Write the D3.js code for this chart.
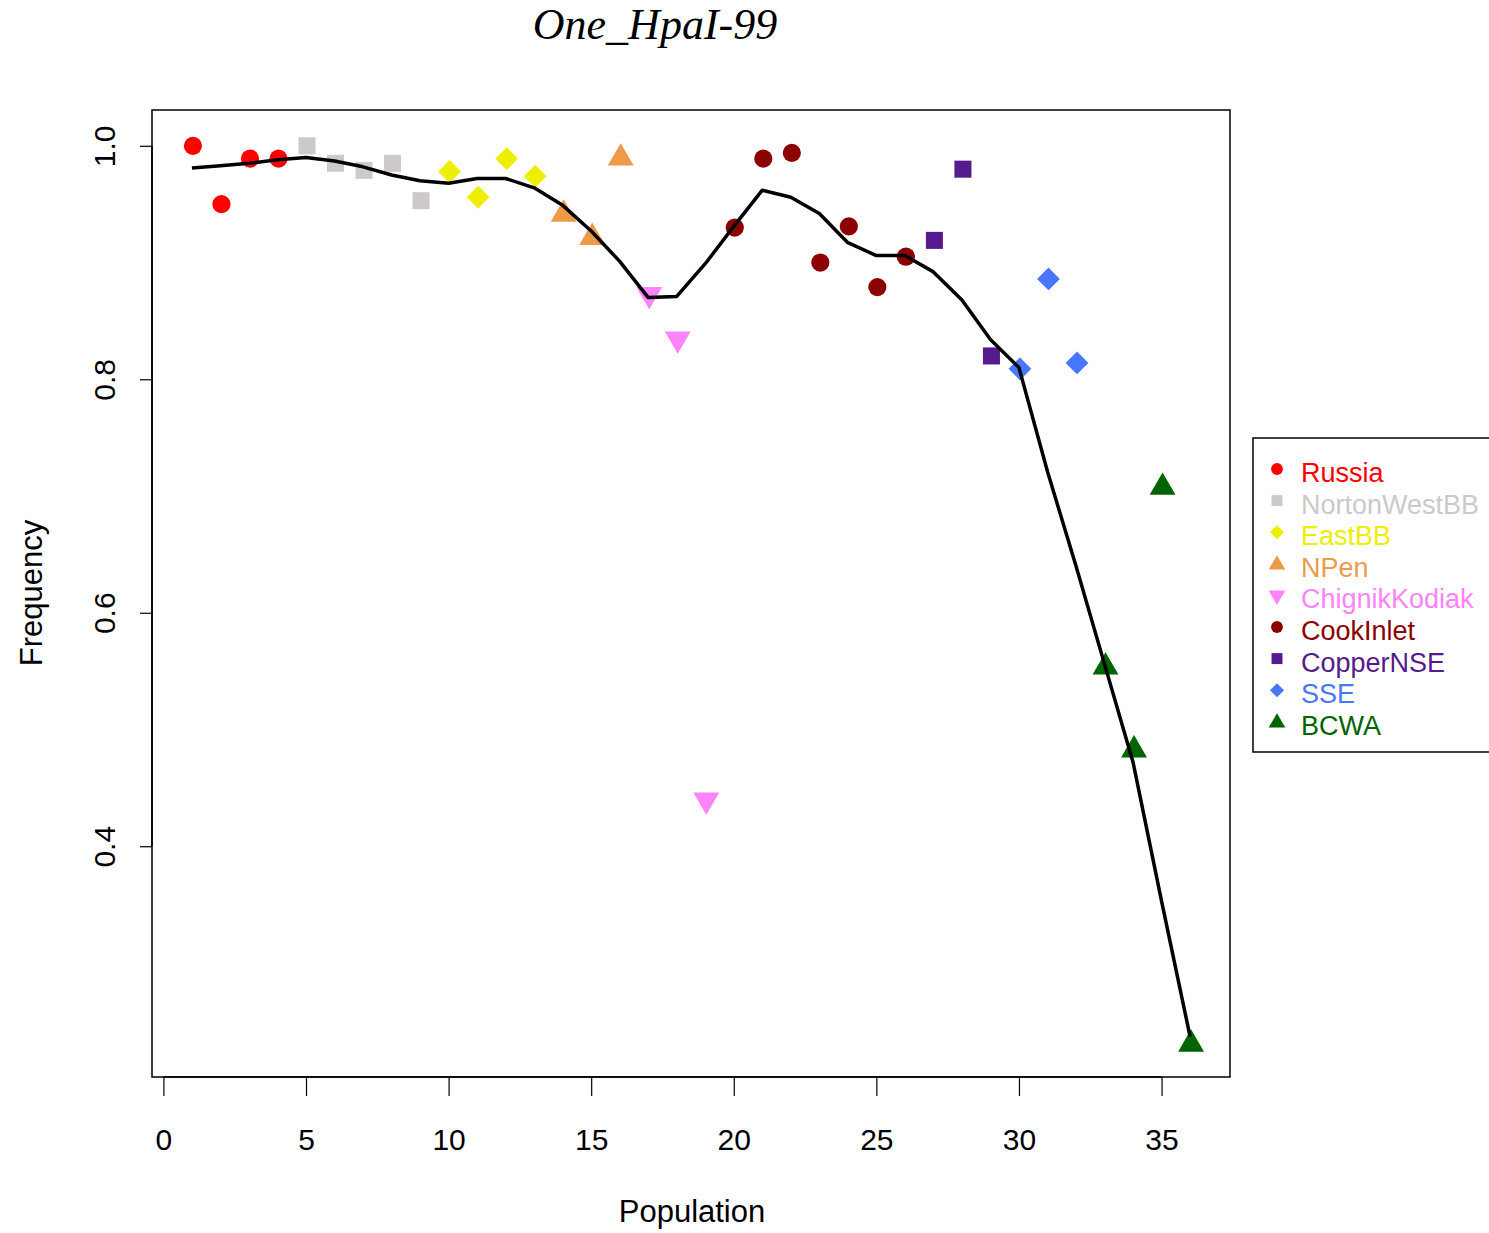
<!DOCTYPE html>
<html><head><meta charset="utf-8">
<script src="https://cdn.jsdelivr.net/npm/d3@7"></script>
<style>body{margin:0;background:#fff}</style>
</head><body>
<svg id="c" width="1489" height="1233"></svg>
<script>
const groups = ["Russia","NortonWestBB","EastBB","NPen","ChignikKodiak","CookInlet","CopperNSE","SSE","BCWA"];
const groupColors = ["#FF0000","#CDC9C9","#EEEE00","#EE9A49","#FF83FA","#8B0000","#551A8B","#4876FF","#006400"];
const groupShapes = ["circle","square","diamond","triangle","triangleDown","circle","square","diamond","triangle"];
const population = [1,2,3,4,5,6,7,8,9,10,11,12,13,14,15,16,17,18,19,20,21,22,23,24,25,26,27,28,29,30,31,32,33,34,35,36];
const pointGroup = [0,0,0,0,1,1,1,1,1,2,2,2,2,3,3,3,4,4,4,5,5,5,5,5,5,5,6,6,6,7,7,7,8,8,8,8];
const frequency = [1.000,0.950,0.989,0.989,1.000,0.985,0.979,0.985,0.953,0.978,0.956,0.989,0.974,0.944,0.924,0.992,0.870,0.832,0.437,0.930,0.989,0.994,0.900,0.931,0.879,0.905,0.919,0.980,0.820,0.809,0.886,0.814,0.556,0.485,0.710,0.233];
const smoothed = [0.981,0.983,0.985,0.988,0.990,0.987,0.982,0.975,0.970,0.968,0.972,0.972,0.964,0.949,0.927,0.901,0.870,0.871,0.899,0.931,0.962,0.956,0.942,0.917,0.906,0.906,0.892,0.868,0.834,0.810,0.721,0.640,0.556,0.472,0.353,0.237];
const xTicks = [0,5,10,15,20,25,30,35];
const yTicks = [0.4,0.6,0.8,1.0];

const svg = d3.select("#c");
const L=152,R=1230,T=110,B=1077;
const xs = d3.scaleLinear().domain([-0.4,37.4]).range([L,R]);
const ymin=d3.min(frequency), ymax=d3.max(frequency), pad=(ymax-ymin)*0.04;
const ys = d3.scaleLinear().domain([ymin-pad,ymax+pad]).range([B,T]);

const font="'Liberation Sans', Arial, sans-serif";

// box
svg.append("rect").attr("x",L).attr("y",T).attr("width",R-L).attr("height",B-T)
  .attr("fill","none").attr("stroke","#000").attr("stroke-width",1.5);

// x axis
const xa = svg.append("g").attr("transform",`translate(0,${B})`)
  .call(d3.axisBottom(xs).tickValues(xTicks).tickSize(19).tickFormat(d3.format("d")));
xa.select(".domain").attr("d",`M${xs(0)},0H${xs(35)}`).attr("stroke-width",1.5);
xa.selectAll("line").attr("stroke-width",1.2);
xa.selectAll("text").attr("font-family",font).attr("font-size",30).attr("fill","#000")
  .attr("y",73).attr("dy",0);

// y axis
const ya = svg.append("g").attr("transform",`translate(${L},0)`)
  .call(d3.axisLeft(ys).tickValues(yTicks).tickSize(12).tickFormat(d3.format(".1f")));
ya.select(".domain").attr("d",`M0,${ys(0.4)}V${ys(1.0)}`).attr("stroke-width",1.5);
ya.selectAll("line").attr("stroke-width",1.2);
ya.selectAll(".tick text").attr("font-family",font).attr("font-size",30).attr("fill","#000")
  .attr("text-anchor","middle").attr("x",0).attr("y",0).attr("dy",0)
  .attr("transform","translate(-37,0) rotate(-90)");

// titles
svg.append("text").attr("x",655).attr("y",39).attr("text-anchor","middle")
  .attr("font-family","'Liberation Serif','Times New Roman',serif").attr("font-style","italic")
  .attr("font-size",44).text("One_HpaI-99");
svg.append("text").attr("x",692).attr("y",1222).attr("text-anchor","middle")
  .attr("font-family",font).attr("font-size",31).text("Population");
svg.append("text").attr("transform","translate(42,593) rotate(-90)").attr("text-anchor","middle")
  .attr("font-family",font).attr("font-size",31).text("Frequency");

function shapePath(shape, s){
  const sym = {circle:d3.symbolCircle,square:d3.symbolSquare,diamond:d3.symbolSquare,triangle:d3.symbolTriangle,triangleDown:d3.symbolTriangle}[shape];
  return d3.symbol().type(sym).size(s)();
}
function shapeRot(shape){ return shape==="diamond"?45:(shape==="triangleDown"?180:0); }
const sizes = {circle:260,square:290,diamond:260,triangle:290,triangleDown:290};

// points
svg.append("g").selectAll("path").data(population).join("path")
  .attr("d",(d,i)=>shapePath(groupShapes[pointGroup[i]], sizes[groupShapes[pointGroup[i]]]))
  .attr("transform",(d,i)=>{
    const sh=groupShapes[pointGroup[i]];
    let dy = sh==="triangle"? 3 : (sh==="triangleDown"? -3:0);
    return `translate(${xs(d)+1},${ys(frequency[i])+dy}) rotate(${shapeRot(sh)})`;})
  .attr("fill",(d,i)=>groupColors[pointGroup[i]]);

// smoothed line
svg.append("path").datum(population)
  .attr("d",d3.line().x(d=>xs(d)).y((d,i)=>ys(smoothed[i])))
  .attr("fill","none").attr("stroke","#000").attr("stroke-width",3.5).attr("stroke-linejoin","round");

// legend
const lg = svg.append("g");
lg.append("rect").attr("x",1253).attr("y",438).attr("width",250).attr("height",314)
  .attr("fill","#fff").attr("stroke","#000").attr("stroke-width",1.5);
const lsizes={circle:110,square:120,diamond:100,triangle:120,triangleDown:120};
groups.forEach((g,i)=>{
  const y = 472 + i*31.6;
  const sh=groupShapes[i];
  lg.append("path").attr("d",shapePath(sh,lsizes[sh]))
    .attr("transform",`translate(1277,${y-3 + (sh==="triangle"?1:0)}) rotate(${shapeRot(sh)})`)
    .attr("fill",groupColors[i]);
  lg.append("text").attr("x",1301).attr("y",y+10).attr("font-family",font).attr("font-size",27)
    .attr("fill",groupColors[i]).text(g);
});
</script>
</body></html>
